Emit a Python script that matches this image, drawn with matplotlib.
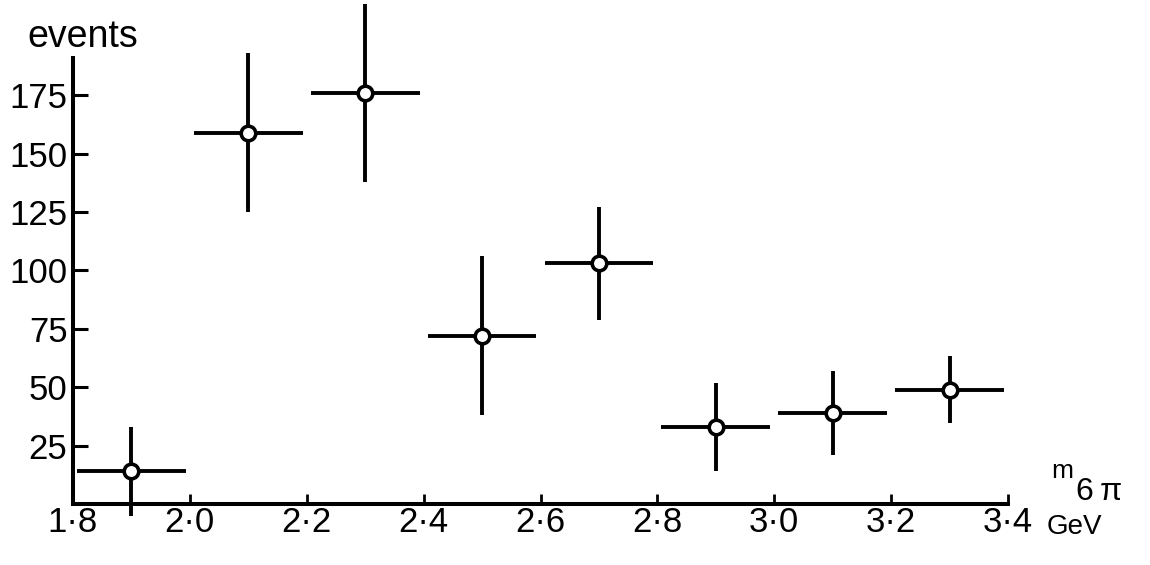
import matplotlib
matplotlib.use('Agg')
import matplotlib.pyplot as plt

# six-pion invariant mass spectrum, 0.2 GeV bins
mass = [1.9, 2.1, 2.3, 2.5, 2.7, 2.9, 3.1, 3.3]
events = [14, 159, 176, 72, 103, 33, 39, 49]
events_err = [19, 34, 38, 34, 24, 19, 18, 14.5]
half_bin = 0.093

xticks = [1.8, 2.0, 2.2, 2.4, 2.6, 2.8, 3.0, 3.2, 3.4]
xticklabels = ['1\u00b78', '2\u00b70', '2\u00b72', '2\u00b74', '2\u00b76',
               '2\u00b78', '3\u00b70', '3\u00b72', '3\u00b74']
yticks = [25, 50, 75, 100, 125, 150, 175]

plt.rcParams['font.family'] = ['Liberation Sans', 'DejaVu Sans']

W, H = 1150, 565
fig = plt.figure(figsize=(W / 100, H / 100), dpi=100)
ax = fig.add_axes([73 / W, 61 / H, 935 / W, 446 / H])

ax.errorbar(mass, events, yerr=events_err, xerr=half_bin, fmt='o',
            color='black', ecolor='black', elinewidth=2.8, capsize=0,
            markersize=10.5, markerfacecolor='white', markeredgecolor='black',
            markeredgewidth=2.6, clip_on=False, zorder=3)

ax.set_xlim(1.8, 3.4)
ax.set_ylim(0, 191)

for side in ['top', 'right']:
    ax.spines[side].set_visible(False)
for side in ['left', 'bottom']:
    ax.spines[side].set_linewidth(2.9)

ax.set_xticks(xticks)
ax.set_xticklabels(xticklabels)
ax.set_yticks(yticks)
ax.tick_params(axis='x', direction='in', length=7, width=2, pad=1.5, labelsize=25)
ax.tick_params(axis='y', direction='in', length=11, width=2.2, pad=4, labelsize=25)

def px(x, y):
    return x / W, 1 - y / H

fig.text(*px(83, 37), 'events', fontsize=27, ha='center', va='center')
fig.text(*px(1062, 471), 'm', fontsize=19, ha='center', va='center')
fig.text(*px(1099, 492), '6\u2009\u03c0', fontsize=23, ha='center', va='center')
fig.text(*px(1074, 527), 'GeV', fontsize=20, ha='center', va='center')

fig.savefig('out.png', dpi=100)
